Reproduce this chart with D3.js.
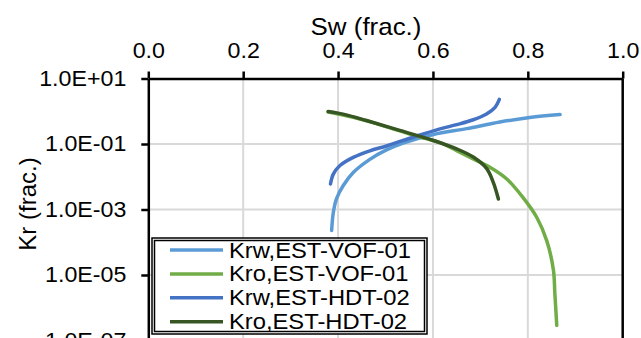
<!DOCTYPE html>
<html>
<head>
<meta charset="utf-8">
<script src="https://cdn.jsdelivr.net/npm/d3@7"></script>
<style>
  html, body { margin: 0; padding: 0; background: #fff; overflow: hidden; }
  svg { display: block; font-family: "Liberation Sans", Arial, sans-serif; }
</style>
</head>
<body>
<div id="chart"></div>
<script>
// Sw / Kr pairs
const swKrwVOF = [0.3865, 0.390, 0.397, 0.411, 0.432, 0.467, 0.502, 0.537, 0.601, 0.671, 0.741, 0.804, 0.868];
const krwVOF   = [2.3e-4, 8.1e-4, 2.2e-3, 5.4e-3, 1.35e-2, 3.4e-2, 6.6e-2, 0.107, 0.195, 0.295, 0.468, 0.645, 0.79];

const swKroVOF = [0.379, 0.415, 0.446, 0.481, 0.516, 0.551, 0.583, 0.615, 0.650, 0.685, 0.720, 0.755, 0.790, 0.819, 0.840, 0.854, 0.857, 0.861];
const kroVOF   = [0.95, 0.74, 0.58, 0.42, 0.29, 0.20, 0.148, 0.111, 0.063, 0.035, 0.0195, 8.7e-3, 2.3e-3, 5.7e-4, 1.1e-4, 1.4e-5, 2.7e-6, 2.9e-7];

const swKrwHDT = [0.384, 0.390, 0.404, 0.432, 0.467, 0.502, 0.537, 0.573, 0.615, 0.650, 0.685, 0.713, 0.731, 0.740];
const krwHDT   = [6.0e-3, 1.2e-2, 2.2e-2, 3.9e-2, 0.062, 0.087, 0.129, 0.188, 0.29, 0.39, 0.55, 0.83, 1.32, 2.3];

const swKroHDT = [0.379, 0.415, 0.460, 0.530, 0.601, 0.650, 0.685, 0.713, 0.727, 0.738];
const kroHDT   = [0.98, 0.79, 0.52, 0.26, 0.128, 0.071, 0.040, 0.018, 6.9e-3, 2.1e-3];

const seriesNames = ['Krw,EST-VOF-01', 'Kro,EST-VOF-01', 'Krw,EST-HDT-02', 'Kro,EST-HDT-02'];
const seriesColors = ['#5B9BD5', '#70AD47', '#4472C4', '#375623'];

const xTicks = [0, 0.2, 0.4, 0.6, 0.8, 1.0];
const yTicks = [1e1, 1e-1, 1e-3, 1e-5, 1e-7];

const W = 641, H = 338;
const plotLeft = 148.3, plotRight = 622.7, plotTop = 78.5, plotBottom = 340.5;
const stretch = 1.08; // the picture's text is a little wider than tall

const svg = d3.select('#chart').append('svg')
  .attr('width', W)
  .attr('height', H);

const x = d3.scaleLinear().domain([0, 1]).range([plotLeft, plotRight]);
const y = d3.scaleLog().domain([1e-7, 1e1]).range([plotBottom, plotTop]);

// grid
svg.append('g')
  .selectAll('line')
  .data(xTicks.filter(d => d > 0 && d < 1))
  .enter().append('line')
  .attr('x1', d => x(d)).attr('x2', d => x(d))
  .attr('y1', plotTop).attr('y2', plotBottom)
  .attr('stroke', '#d9d9d9').attr('stroke-width', 2);

svg.append('g')
  .selectAll('line')
  .data(yTicks.filter(d => d < 10 && d > 1e-7))
  .enter().append('line')
  .attr('x1', plotLeft).attr('x2', plotRight)
  .attr('y1', d => y(d)).attr('y2', d => y(d))
  .attr('stroke', '#d9d9d9').attr('stroke-width', 2);

// right border
svg.append('line')
  .attr('x1', plotRight).attr('x2', plotRight)
  .attr('y1', plotTop).attr('y2', plotBottom)
  .attr('stroke', '#000').attr('stroke-width', 2.5);

function fmtExp(v) {
  const e = Math.round(Math.log10(v));
  const s = e < 0 ? '-' : '+';
  return '1.0E' + s + String(Math.abs(e)).padStart(2, '0');
}

// Top axis
const gx = svg.append('g')
  .attr('transform', `translate(0,${plotTop})`)
  .call(d3.axisTop(x).tickValues(xTicks).tickFormat(d3.format('.1f')).tickSize(7).tickSizeOuter(0).tickPadding(13.5));
gx.select('.domain').attr('stroke-width', 2.5).attr('stroke', '#000');
gx.selectAll('.tick line').attr('stroke-width', 2.5).attr('stroke', '#000');
gx.selectAll('text')
  .style('font-size', '21.5px')
  .attr('fill', '#000')
  .attr('transform', `scale(${stretch},1)`);

// Left axis
const gy = svg.append('g')
  .attr('transform', `translate(${plotLeft},0)`)
  .call(d3.axisLeft(y).tickValues(yTicks).tickFormat(fmtExp).tickSize(7).tickSizeOuter(0));
gy.select('.domain').attr('stroke-width', 2.5).attr('stroke', '#000');
gy.selectAll('.tick line').attr('stroke-width', 2.5).attr('stroke', '#000');
gy.selectAll('text')
  .style('font-size', '21.5px')
  .attr('fill', '#000')
  .attr('x', -22 / stretch)
  .attr('transform', `scale(${stretch},1)`);

// axis titles
svg.append('text')
  .attr('transform', `translate(366,35) scale(${stretch},1)`)
  .attr('text-anchor', 'middle')
  .style('font-size', '24px')
  .text('Sw (frac.)');

svg.append('text')
  .attr('transform', 'translate(35.5,204) rotate(-90)')
  .attr('text-anchor', 'middle')
  .style('font-size', '24px')
  .text('Kr (frac.)');

// curves
const allSeries = [
  swKrwVOF.map((s, i) => [s, krwVOF[i]]),
  swKroVOF.map((s, i) => [s, kroVOF[i]]),
  swKrwHDT.map((s, i) => [s, krwHDT[i]]),
  swKroHDT.map((s, i) => [s, kroHDT[i]])
];

const line = d3.line()
  .x(d => x(d[0]))
  .y(d => y(d[1]))
  .curve(d3.curveCatmullRom.alpha(0.5));

const plot = svg.append('g');
allSeries.forEach((data, i) => {
  plot.append('path')
    .datum(data)
    .attr('fill', 'none')
    .attr('stroke', seriesColors[i])
    .attr('stroke-width', 3.5)
    .attr('stroke-linecap', 'round')
    .attr('stroke-linejoin', 'round')
    .attr('d', line);
});

// legend
const lgX = 152, lgY = 238, lgW = 275, lgH = 96;
const legend = svg.append('g');
legend.append('rect')
  .attr('x', lgX).attr('y', lgY)
  .attr('width', lgW).attr('height', lgH)
  .attr('fill', '#fff')
  .attr('stroke', '#000')
  .attr('stroke-width', 1.5);
legend.append('rect')
  .attr('x', lgX + 2.5).attr('y', lgY + 2.5)
  .attr('width', lgW - 5).attr('height', lgH - 5)
  .attr('fill', 'none')
  .attr('stroke', '#000')
  .attr('stroke-width', 1.5);

const rows = legend.selectAll('g.row')
  .data(seriesNames)
  .enter().append('g')
  .attr('class', 'row')
  .attr('transform', (d, i) => `translate(0,${250 + i * 23.9})`);

rows.append('line')
  .attr('x1', 170).attr('x2', 223)
  .attr('y1', 0).attr('y2', 0)
  .attr('stroke', (d, i) => seriesColors[i])
  .attr('stroke-width', 3.5);

rows.append('text')
  .attr('transform', `translate(229,7.5) scale(${stretch},1)`)
  .style('font-size', '22px')
  .text(d => d);
</script>
</body>
</html>
